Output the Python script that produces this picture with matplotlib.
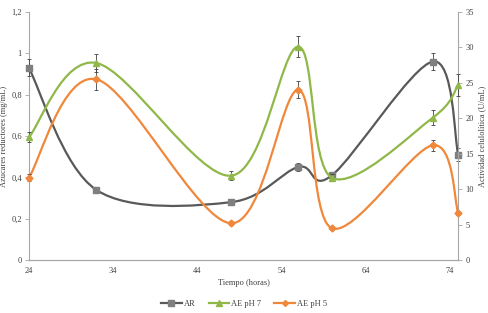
import numpy as np
import matplotlib
matplotlib.use("Agg")
from matplotlib import pyplot as plt
from matplotlib.path import Path
from matplotlib.patches import PathPatch
from matplotlib.lines import Line2D
from matplotlib.ticker import FuncFormatter

# time (hours)
tiempo = [24, 32, 48, 56, 60, 72, 75]

# reducing sugars (mg/mL), left axis
ar = [0.93, 0.34, 0.28, 0.45, 0.41, 0.96, 0.51]
ar_err = [0.04, 0.015, 0.01, 0.02, 0.012, 0.04, 0.03]

# cellulolytic activity (U/mL), right axis
ae_ph7 = [17.3, 27.8, 11.9, 30.1, 11.6, 20.1, 24.7]
ae_ph7_err = [0.7, 1.3, 0.6, 1.5, 0.5, 1.0, 1.5]
ae_ph5 = [11.6, 25.5, 5.2, 24.0, 4.5, 16.2, 6.6]
ae_ph5_err = [0.5, 1.5, 0.3, 1.2, 0.3, 0.8, 0.3]

GRAY = "#595959"
GRAY_M = "#7f7f7f"
GREEN = "#8fb849"
ORANGE = "#f0883b"
AXC = "#a6a6a6"
FS = 6

plt.rcParams["font.family"] = ["Liberation Serif", "DejaVu Serif"]
plt.rcParams["font.size"] = FS


def smooth_path(x, y):
    # excel-like smoothed line: bezier segments with catmull-rom control points
    x = np.asarray(x, float)
    y = np.asarray(y, float)
    n = len(x)
    verts = [(x[0], y[0])]
    codes = [Path.MOVETO]
    for i in range(n - 1):
        x0, y0 = (x[i - 1], y[i - 1]) if i > 0 else (x[i], y[i])
        x3, y3 = (x[i + 2], y[i + 2]) if i + 2 < n else (x[i + 1], y[i + 1])
        c1 = (x[i] + (x[i + 1] - x0) / 6, y[i] + (y[i + 1] - y0) / 6)
        c2 = (x[i + 1] - (x3 - x[i]) / 6, y[i + 1] - (y3 - y[i]) / 6)
        verts += [c1, c2, (x[i + 1], y[i + 1])]
        codes += [Path.CURVE4] * 3
    return Path(verts, codes)


fig = plt.figure(figsize=(4.88, 3.13), dpi=100)
ax = fig.add_axes([0.059, 0.169, 0.88, 0.793])
ax2 = ax.twinx()

ax.set_xlim(24, 75)
ax.set_ylim(0, 1.2)
ax2.set_ylim(0, 35)
ax.set_xticks([24, 34, 44, 54, 64, 74])
ax.set_yticks(np.arange(0, 1.21, 0.2))
ax2.set_yticks(range(0, 36, 5))
ax.yaxis.set_major_formatter(FuncFormatter(lambda v, p: ("%g" % round(v, 1)).replace(".", ",")))

for a in (ax, ax2):
    a.spines["top"].set_visible(False)
    for s in ("left", "right", "bottom"):
        a.spines[s].set_color(AXC)
        a.spines[s].set_linewidth(0.8)
    a.tick_params(colors="#404040", length=3, width=0.6, color=AXC, labelsize=FS, pad=2)
ax.tick_params(axis="x", length=0, pad=5)
ax2.spines["left"].set_visible(False)
ax.spines["right"].set_visible(False)

# lines
ax.add_patch(PathPatch(smooth_path(tiempo, ar), fc="none", ec=GRAY, lw=1.6, zorder=3))
ax2.add_patch(PathPatch(smooth_path(tiempo, ae_ph7), fc="none", ec=GREEN, lw=1.6, zorder=3))
ax2.add_patch(PathPatch(smooth_path(tiempo, ae_ph5), fc="none", ec=ORANGE, lw=1.6, zorder=3))

# markers + error bars
eb_kw = dict(ecolor="#404040", elinewidth=0.6, capsize=1.5, capthick=0.6, zorder=4)
for c in [
    ax.errorbar(tiempo, ar, yerr=ar_err, fmt="s", ms=5, color=GRAY_M, **eb_kw),
    ax2.errorbar(tiempo, ae_ph7, yerr=ae_ph7_err, fmt="^", ms=5, color=GREEN, **eb_kw),
    ax2.errorbar(tiempo, ae_ph5, yerr=ae_ph5_err, fmt="D", ms=3.5, color=ORANGE, **eb_kw),
]:
    for art in c.get_children():
        art.set_clip_on(False)

ax.set_ylabel("Azúcares reductores (mg/mL)", fontsize=FS, color="#404040", labelpad=2)
ax2.set_ylabel("Actividad celulolítica (U/mL)", fontsize=FS, color="#404040", labelpad=3)
fig.text(0.5, 0.095, "Tiempo (horas)", ha="center", va="center", fontsize=FS, color="#404040")

handles = [
    Line2D([], [], color=GRAY, lw=1.6, marker="s", ms=4, mfc=GRAY_M, mec=GRAY_M),
    Line2D([], [], color=GREEN, lw=1.6, marker="^", ms=4),
    Line2D([], [], color=ORANGE, lw=1.6, marker="D", ms=3),
]
fig.legend(handles, ["AR", "AE pH 7", "AE pH 5"], loc="center", bbox_to_anchor=(0.5, 0.03),
           ncol=3, frameon=False, fontsize=FS, handlelength=2.5, handletextpad=0.2,
           columnspacing=1.6, labelcolor="#404040")

fig.savefig("out.png", dpi=100)
